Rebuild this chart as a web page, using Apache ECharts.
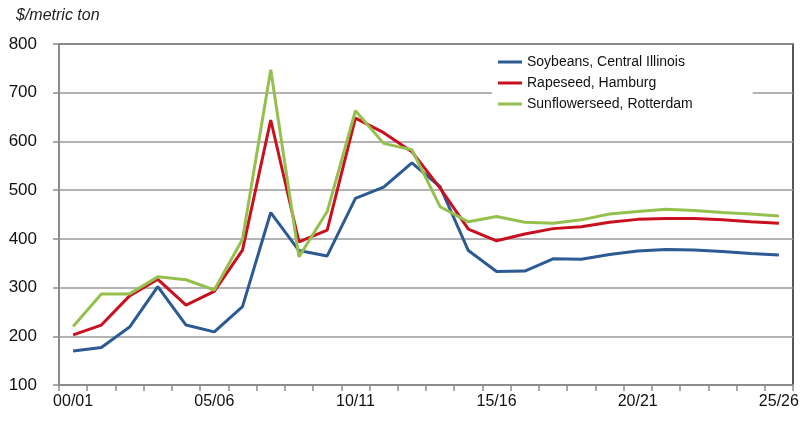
<!DOCTYPE html>
<html>
<head>
<meta charset="utf-8">
<script src="https://cdn.jsdelivr.net/npm/echarts@6/dist/echarts.min.js"></script>
<style>
  html, body { margin: 0; padding: 0; background: #fff; }
  #main { width: 807px; height: 421px; }
</style>
</head>
<body>
<div id="main"></div>
<script>
// marketing years 00/01 .. 25/26
var years = ['00/01','01/02','02/03','03/04','04/05','05/06','06/07','07/08','08/09','09/10',
  '10/11','11/12','12/13','13/14','14/15','15/16','16/17','17/18','18/19','19/20',
  '20/21','21/22','22/23','23/24','24/25','25/26'];

var soybeans = [170, 177, 219, 302, 223, 209, 261, 454, 376, 365,
  483, 506, 556, 507, 376, 333, 334, 359, 358, 368,
  375, 378, 377, 374, 370, 367];

var rapeseed = [203, 223, 283, 317, 264, 292, 377, 644, 394, 418,
  648, 618, 579, 504, 420, 396, 410, 421, 425, 434,
  440, 442, 442, 439, 435, 432];

var sunflower = [220, 287, 287, 322, 316, 295, 399, 747, 363, 456,
  663, 596, 583, 466, 435, 446, 434, 432, 439, 451,
  456, 461, 458, 454, 451, 447];

var myChart = echarts.init(document.getElementById('main'));

function line(name, data, color) {
  return {
    name: name,
    type: 'line',
    data: data,
    symbol: 'none',
    lineStyle: { color: color, width: 3 },
    itemStyle: { color: color }
  };
}

myChart.setOption({
  animation: false,
  textStyle: { fontFamily: 'Liberation Sans, Arial, sans-serif' },
  title: {
    text: '$/metric ton',
    left: 11,
    top: 3,
    textStyle: { fontSize: 16, fontStyle: 'italic', fontWeight: 'normal', color: '#222' }
  },
  legend: {
    orient: 'vertical',
    left: 492,
    top: 51,
    itemWidth: 24,
    itemHeight: 3,
    itemGap: 7,
    padding: [4, 60, 6, 6],
    backgroundColor: '#fff',
    icon: 'rect',
    textStyle: { fontSize: 14, color: '#111' },
    data: ['Soybeans, Central Illinois', 'Rapeseed, Hamburg', 'Sunflowerseed, Rotterdam']
  },
  grid: {
    left: 59, right: 14, top: 44, bottom: 36,
    show: true,
    borderColor: '#222',
    borderWidth: 1.5
  },
  xAxis: {
    type: 'category',
    data: years,
    boundaryGap: true,
    axisLine: { lineStyle: { color: '#8c8c8c', width: 2 } },
    axisTick: { show: true, interval: 0, length: 6, lineStyle: { color: '#8c8c8c', width: 1.5 } },
    axisLabel: { interval: 4, fontSize: 16, color: '#111', margin: 9 },
    splitLine: { show: false }
  },
  yAxis: {
    type: 'value',
    min: 100,
    max: 800,
    interval: 100,
    axisLine: { show: true, lineStyle: { color: '#8c8c8c', width: 2 } },
    axisTick: { show: true, length: 6, lineStyle: { color: '#8c8c8c', width: 1.5 } },
    axisLabel: { fontSize: 17, color: '#111', margin: 22 },
    splitLine: { lineStyle: { color: '#9a9a9a', width: 1.5 } }
  },
  series: [
    line('Soybeans, Central Illinois', soybeans, '#2c5a93'),
    line('Rapeseed, Hamburg', rapeseed, '#c8101e'),
    line('Sunflowerseed, Rotterdam', sunflower, '#95c04e')
  ]
});
</script>
</body>
</html>
